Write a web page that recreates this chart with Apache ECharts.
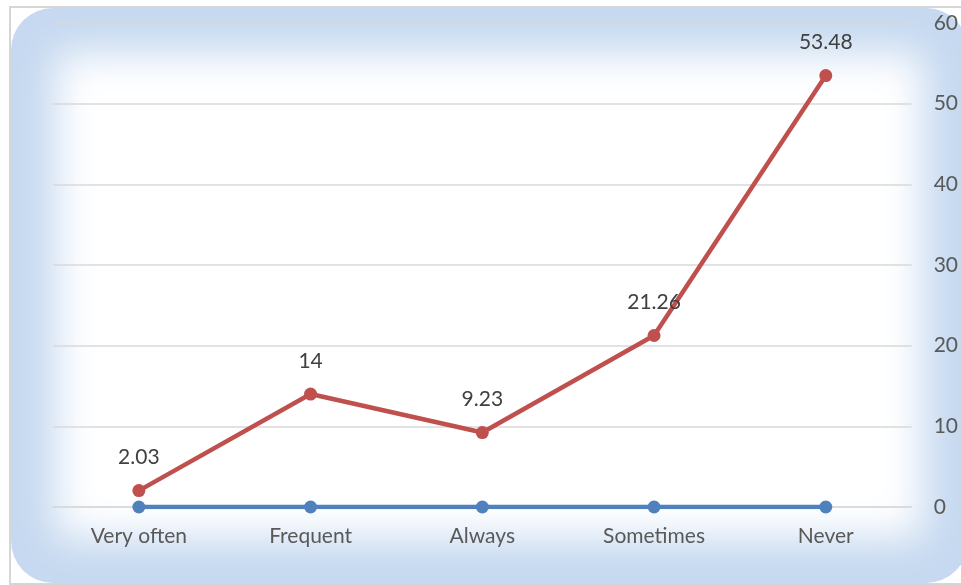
<!DOCTYPE html>
<html>
<head>
<meta charset="utf-8">
<script src="https://cdn.jsdelivr.net/npm/echarts@6/dist/echarts.min.js"></script>
<style>
  html, body { margin: 0; padding: 0; background: #fff; overflow: hidden; }
  #wrap { position: relative; width: 961px; height: 585px; overflow: hidden; }
  #frame {
    position: absolute; left: 9px; top: 6px; width: 990px; height: 579px;
    border: 2px solid #d6d6d6; box-sizing: border-box; background: #fff;
  }
  #glow {
    position: absolute; left: 11px; top: 8px; width: 957px; height: 575px;
    border-radius: 42px; background: #fff;
    box-shadow: inset 0 0 40px 45px #c6d9f0;
  }
  #main { position: absolute; left: 0; top: 0; width: 961px; height: 585px; }
</style>
</head>
<body>
<div id="wrap">
  <div id="frame"></div>
  <div id="glow"></div>
  <div id="main"></div>
</div>
<script>
// data
const categories = ['Very often', 'Frequent', 'Always', 'Sometimes', 'Never'];
const redValues = [2.03, 14, 9.23, 21.26, 53.48];
const blueValues = [0, 0, 0, 0, 0];

let chart = echarts.init(document.getElementById('main'));

let option = {
    backgroundColor: 'transparent',
    animation: false,
    textStyle: { fontFamily: 'Lato' },
    grid: { left: 53, right: 44, top: 23, bottom: 78 },
    xAxis: {
        type: 'category',
        data: categories,
        boundaryGap: true,
        axisLine: { show: true, lineStyle: { color: '#d9d9d9', width: 1.5 } },
        axisTick: { show: false },
        axisLabel: { color: '#595959', fontSize: 21, margin: 19 }
    },
    yAxis: {
        type: 'value',
        position: 'right',
        min: 0, max: 60, interval: 10,
        axisLine: { show: false },
        axisTick: { show: false },
        splitLine: { lineStyle: { color: '#d9d9d9', width: 1.5 } },
        axisLabel: { color: '#595959', fontSize: 21, margin: 22, align: 'left' }
    },
    series: [
        {
            name: 'blue',
            type: 'line',
            data: blueValues,
            symbol: 'circle',
            symbolSize: 13,
            lineStyle: { color: '#4f81bd', width: 4.5 },
            itemStyle: { color: '#4f81bd' }
        },
        {
            name: 'red',
            type: 'line',
            data: redValues,
            symbol: 'circle',
            symbolSize: 13,
            lineStyle: { color: '#c0504d', width: 4.5 },
            itemStyle: { color: '#c0504d' },
            label: {
                show: true,
                position: 'top',
                distance: 16,
                color: '#404040',
                fontSize: 21
            }
        }
    ]
};

chart.setOption(option);
</script>
</body>
</html>
